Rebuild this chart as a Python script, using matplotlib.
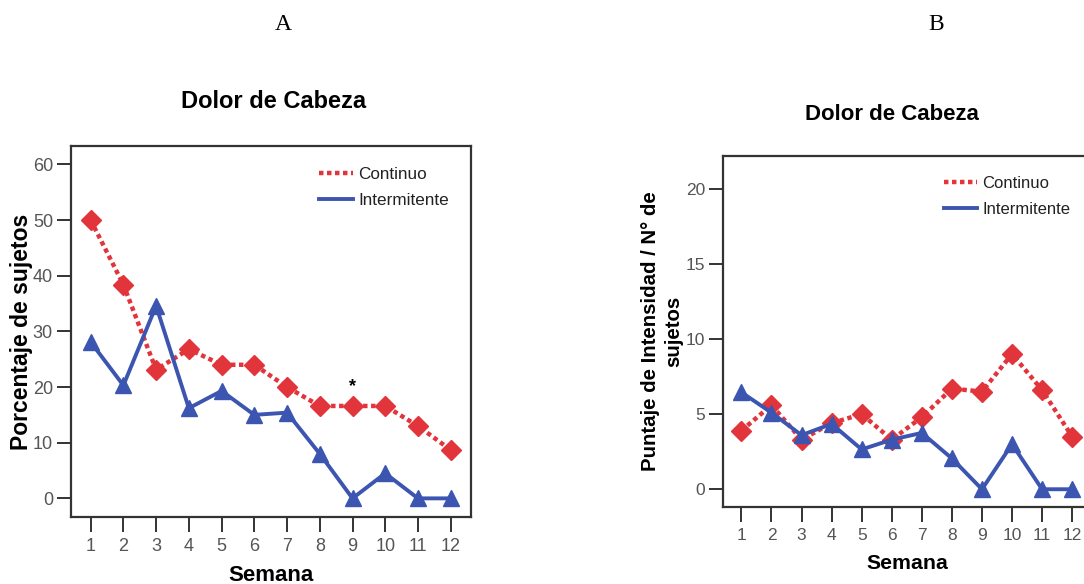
import matplotlib
matplotlib.use("Agg")
import matplotlib.pyplot as plt
from matplotlib.lines import Line2D

semanas = list(range(1, 13))

# Panel A: porcentaje de sujetos
a_continuo = [50, 38.4, 23.1, 26.8, 24.0, 24.0, 20.0, 16.6, 16.6, 16.6, 13.0, 8.7]
a_intermitente = [28.1, 20.3, 34.6, 16.2, 19.3, 15.0, 15.4, 8.0, 0, 4.5, 0, 0]

# Panel B: puntaje de intensidad / n de sujetos
b_continuo = [3.9, 5.6, 3.3, 4.4, 5.0, 3.3, 4.8, 6.7, 6.5, 9.0, 6.6, 3.5]
b_intermitente = [6.45, 5.1, 3.6, 4.35, 2.65, 3.3, 3.75, 2.05, 0, 3.0, 0, 0]

RED = "#e2343b"
BLUE = "#3c55b0"
FRAME = "#333333"
TICK = "#555555"
RED_LS = (0, (1, 0.8))

plt.rcParams["font.family"] = ["Liberation Sans", "DejaVu Sans"]

fig = plt.figure(figsize=(10.84, 5.84), dpi=100)


def draw_panel(ax, continuo, intermitente, ylim, yticks, ylabel, sizes, pads):
    tick_fs, xlab_fs, ylab_fs, leg_fs = sizes
    xlab_pad, ylab_pad = pads
    ax.plot(semanas, continuo, color=RED, lw=3.2, ls=RED_LS,
            marker="D", ms=10, mec=RED, zorder=3)
    ax.plot(semanas, intermitente, color=BLUE, lw=2.8, ls="-",
            marker="^", ms=11, mec=BLUE, zorder=3)
    ax.set_xlim(0.4, 12.62)
    ax.set_ylim(*ylim)
    ax.set_xticks(semanas)
    ax.set_yticks(yticks)
    for s in ax.spines.values():
        s.set_color(FRAME)
        s.set_linewidth(1.6)
    ax.tick_params(axis="both", direction="out", colors=FRAME, width=1.4,
                   labelcolor=TICK, labelsize=tick_fs)
    ax.tick_params(axis="x", length=11, pad=4)
    ax.tick_params(axis="y", length=10, pad=3)
    ax.set_xlabel("Semana", fontsize=xlab_fs, fontweight="bold", labelpad=xlab_pad)
    ax.set_ylabel(ylabel, fontsize=ylab_fs, fontweight="bold", labelpad=ylab_pad,
                  linespacing=1.3)
    handles = [Line2D([], [], color=RED, lw=3.2, ls=RED_LS),
               Line2D([], [], color=BLUE, lw=2.8)]
    leg = ax.legend(handles, ["Continuo", "Intermitente"], loc="upper right",
                    frameon=False, fontsize=leg_fs, handlelength=2.0,
                    handletextpad=0.3, labelspacing=0.65,
                    borderaxespad=0.4, bbox_to_anchor=(0.98, 0.98))
    for t in leg.get_texts():
        t.set_color("#222222")


axA = fig.add_axes([0.0655, 0.1147, 0.369, 0.6353])
draw_panel(axA, a_continuo, a_intermitente, (-3.35, 63.3), [0, 10, 20, 30, 40, 50, 60],
           "Porcentaje de sujetos", (13, 16, 16.5, 12.3), (7, 0))
axA.text(9, a_continuo[8] + 2.0, "*", ha="center", va="bottom", fontsize=13,
         fontweight="bold")

axB = fig.add_axes([0.6673, 0.1324, 0.339, 0.601])
draw_panel(axB, b_continuo, b_intermitente, (-1.16, 22.2), [0, 5, 10, 15, 20],
           "Puntaje de Intensidad / N\u00b0 de\nsujetos", (12.5, 15.3, 14.7, 12),
           (8, 2))

fig.text(0.2528, 0.827, "Dolor de Cabeza", ha="center", va="center",
         fontsize=17, fontweight="bold")
fig.text(0.823, 0.804, "Dolor de Cabeza", ha="center", va="center",
         fontsize=16, fontweight="bold")
fig.text(0.261, 0.958, "A", ha="center", va="center", fontsize=17,
         family=["Liberation Serif", "DejaVu Serif"])
fig.text(0.864, 0.958, "B", ha="center", va="center", fontsize=17,
         family=["Liberation Serif", "DejaVu Serif"])

fig.savefig("out.png", dpi=100)
